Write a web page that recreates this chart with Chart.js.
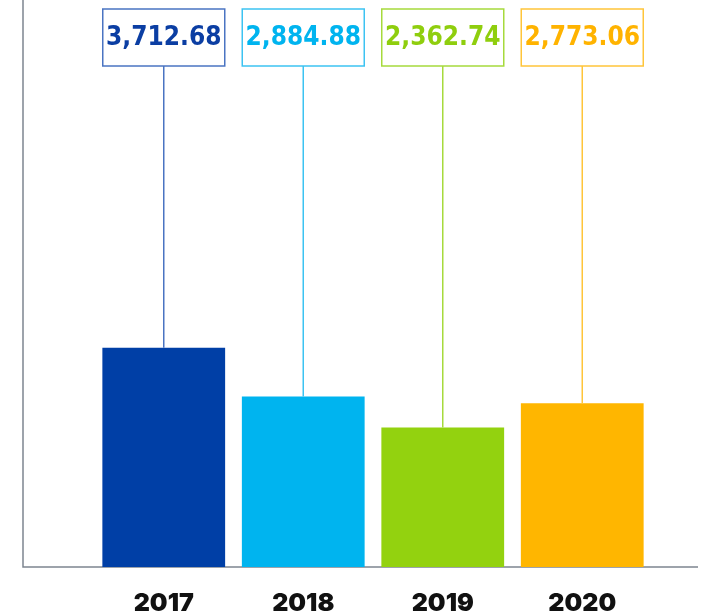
<!DOCTYPE html>
<html>
<head>
<meta charset="utf-8">
<script src="https://cdn.jsdelivr.net/npm/chart.js@4.4.1/dist/chart.umd.min.js"></script>
<style>
    html, body { margin: 0; padding: 0; background: #ffffff; }
    #wrap { width: 706px; height: 615px; }
</style>
</head>
<body>
<div id="wrap"><canvas id="barChart" width="706" height="615"></canvas></div>
<script>
// ========================
// DATA
// ========================
const years = ['2017', '2018', '2019', '2020'];
const values = [3712.68, 2884.88, 2362.74, 2773.06];
const barColors = ['#003fa6', '#00b4ef', '#93d20f', '#ffb600'];
const textColors = ['#0b3ea3', '#00b4ef', '#8fce0e', '#ffb300'];
const lineColors = ['#4a74c2', '#3cc3f2', '#a6da3c', '#ffc53a'];

// ========================
// PLUGINS
// ========================
// axis lines run a little past the bars on both sides
const axisLines = {
    id: 'axisLines',
    beforeDatasetsDraw(chart) {
        const { ctx, chartArea } = chart;
        const left = chartArea.left - 71;
        const right = chartArea.right + 46;
        ctx.save();
        ctx.strokeStyle = '#7d8590';
        ctx.lineWidth = 1.5;
        ctx.beginPath();
        ctx.moveTo(left, chartArea.top);
        ctx.lineTo(left, chartArea.bottom);
        ctx.lineTo(right, chartArea.bottom);
        ctx.stroke();
        ctx.restore();
    }
};

// boxed value labels at the top with a leader line down to each bar
const valueBoxes = {
    id: 'valueBoxes',
    afterDatasetsDraw(chart) {
        const { ctx } = chart;
        const meta = chart.getDatasetMeta(0);
        const boxW = 122, boxH = 57, boxTop = 9;

        ctx.save();
        meta.data.forEach(function(bar, i) {
            const x = bar.x;

            // leader line
            ctx.strokeStyle = lineColors[i];
            ctx.lineWidth = 1.5;
            ctx.beginPath();
            ctx.moveTo(x, boxTop + boxH);
            ctx.lineTo(x, bar.y);
            ctx.stroke();

            // box
            ctx.strokeRect(x - boxW / 2, boxTop, boxW, boxH);

            // text
            ctx.fillStyle = textColors[i];
            ctx.font = "bold 26px 'DejaVu Sans Condensed', 'DejaVu Sans'";
            ctx.textAlign = 'center';
            ctx.textBaseline = 'middle';
            const label = values[i].toLocaleString('en-US', { minimumFractionDigits: 2, maximumFractionDigits: 2 });
            ctx.fillText(label, x, boxTop + boxH / 2 + 1);
        });
        ctx.restore();
    }
};

// ========================
// CHART
// ========================
new Chart(document.getElementById('barChart'), {
    type: 'bar',
    data: {
        labels: years,
        datasets: [{
            data: values,
            backgroundColor: barColors,
            borderWidth: 0,
            categoryPercentage: 1,
            barPercentage: 0.88
        }]
    },
    options: {
        responsive: false,
        animation: false,
        layout: {
            padding: { left: 94, right: 54, top: 0, bottom: 0 }
        },
        plugins: {
            legend: { display: false },
            tooltip: { enabled: false }
        },
        scales: {
            x: {
                grid: { display: false, drawTicks: false },
                border: { display: false },
                ticks: {
                    color: '#111111',
                    padding: 21,
                    font: { family: 'Inter', size: 25, weight: 900 }
                },
                afterFit(scale) { scale.height = 48; }
            },
            y: {
                display: false,
                min: 0,
                max: 9600
            }
        }
    },
    plugins: [axisLines, valueBoxes]
});
</script>
</body>
</html>
